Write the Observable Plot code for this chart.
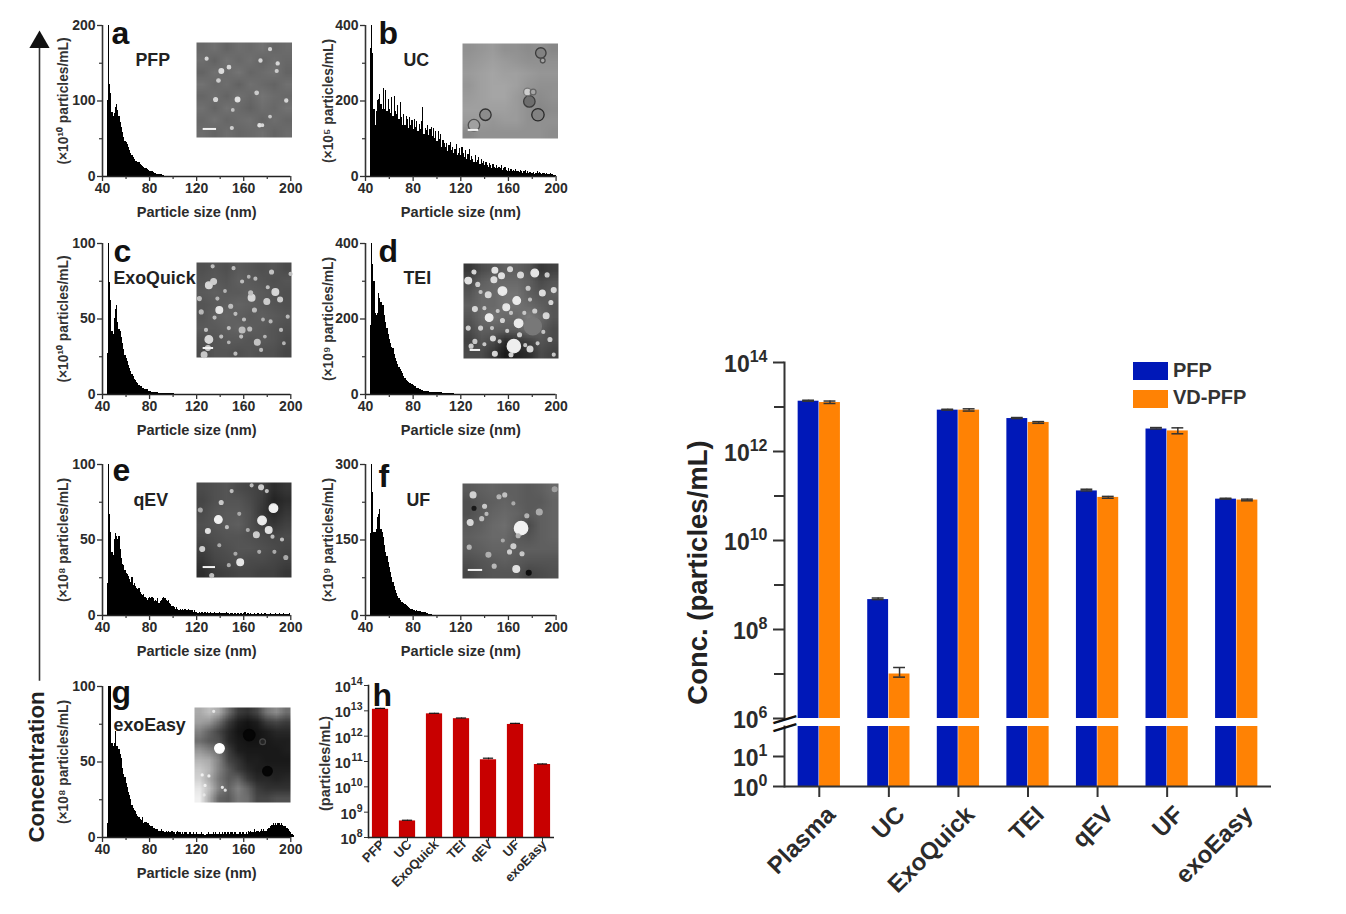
<!DOCTYPE html>
<html><head><meta charset="utf-8">
<script src="https://cdn.jsdelivr.net/npm/d3@7"></script>
<script src="https://cdn.jsdelivr.net/npm/@observablehq/plot@0.6"></script>
<style>
html,body{margin:0;padding:0;background:#fff}
#page{position:relative;width:1346px;height:914px;overflow:hidden;font-family:"Liberation Sans",Arial,sans-serif;color:#222}
#page svg{position:absolute;overflow:visible;background:transparent}
.lg{position:absolute;font-weight:bold;font-size:20px;color:#333;line-height:18px}
.sw{position:absolute;width:35px;height:18px}
</style></head><body><div id="page"></div>
<script>
// ---------- histogram values, 1 nm bins starting at 44 nm ----------
const firstSize = 44;
const countsA = [100,200,122,110,85,80,84,92,96,88,80,72,65,58,52,47,45,42,38,35,31,28,25,22,20,20,19,18,16,15,13,12,11,10,9,8,7,6,6,5,4,4,3,3,2,2,2,1,1];
const countsB = [340,400,325,178,135,172,200,205,218,190,178,232,178,228,172,205,
178,168,208,160,212,172,165,188,152,195,155,135,165,135,160,152,128,155,135,148,
125,150,130,145,118,138,125,145,182,112,128,122,135,108,125,130,105,128,100,120,
92,118,98,110,78,95,88,76,88,66,82,90,68,78,60,72,85,55,62,75,
55,78,60,50,68,46,58,72,42,52,45,38,55,38,42,50,32,45,35,40,
28,38,30,25,35,28,22,32,25,20,28,22,25,20,28,17,22,25,16,14,
20,14,18,13,16,12,18,12,14,11,16,12,9,14,16,9,12,8,10,7,
8,11,6,9,12,7,10,8,6,9,7,5,8,5,6,7,4,5,3,3];
const countsC = [27,100,74,62,42,40,50,56,59,48,43,42,38,34,30,26,24,22,19,17,15,13,12,10,9,8,7,6,5,5,4,4,3,3,3,2,2,2,1.5,1.5,1,1,1,1,.8,.8,.7,.7,.6,.6,.6,.5,.5,.5,.4,.4,.4];
const countsD = [183,400,345,300,215,210,215,268,255,245,235,235,210,190,175,160,145,135,125,122,105,95,88,80,72,65,60,55,48,42,38,35,33,30,28,26,24,22,20,17,15,14,13,11,10,9,8,8,7,7,6,6,5,5,5,5,4,4,4,4,4,3,3,3,3,3,3,3,3,2,2,1,1,1,1,1,1,1,1,1,1,1,1,1,1];
const countsE = [21,100,67,55,42,40,50,54,52,50,52,44,38,34,33,30,28,27,26,24,22,25,20,21,19,18,17,18,15,14,13,14,12,11,10,11,12,11,12,11,9,10,9,11,8,9,10,11,12,11,10,9,10,8,7,6,6,5,4,5,4,3,4,3,4,3,4,3,3,4,3,3,3,2,3,2,2,1,2,1,2,2,1,2,1,2,1,1,2,1,1,2,1,1,1,2,1,1,1,1,1,2,1,1,.5,1,1,.5,1,1,.5,1,.5,1,1,.5,1,2,.5,1,1,.5,1,.5,.5,1,.5,.5,1,.5,.5,1,.5,.5,1,.5,.5,.5,.5,1,.5,.5,.5,1,.5,.5,1,.5,.5,.5,1,.5,.5,.5,.5,1];
const countsF = [163,300,245,165,165,170,195,200,210,170,165,155,140,125,118,105,95,85,75,65,58,50,44,38,33,30,26,26,24,22,20,18,15,14,12,11,10,9,8,9,8,7,7,6,5,5,5,4,3,2,1,1];
const countsG = [9,100,100,100,62,60,62,70,60,60,58,55,52,46,42,40,36,33,30,28,25,21,19,18,17,15,14,13,12,11,13,9,10,10,9,9,8,7,7,6,6,5,5,5,4,4,5,4,4,3,4,3,4,3,3,4,3,3,2,3,4,3,3,2,3,2,3,3,2,2,3,3,2,3,2,2,3,2,2,2,3,2,2,1,2,2,3,2,2,2,3,2,3,2,2,3,2,2,3,2,3,2,3,3,2,3,3,2,3,3,2,2,3,3,2,3,3,2,3,2,4,3,4,3,3,5,3,4,4,3,4,5,4,5,4,4,5,6,6,7,8,9,8,9,8,9,9,8,9,8,7,7,6,6,5,4,3,2,1];

// ---------- concentration bars ----------
const methodsH = ["PFP","UC","ExoQuick","TEI","qEV","UF","exoEasy"];
const concH = [1.15e13,4.5e8,7.6e12,4.9e12,1.17e11,2.9e12,7.6e10];
const hiH = [1.25e13,4.8e8,8.0e12,5.2e12,1.35e11,3.2e12,8.0e10];
const methods = ["Plasma","UC","ExoQuick","TEI","qEV","UF","exoEasy"];
const concPFP = [1.35e13,4.7e8,8.5e12,5.5e12,1.3e11,3.2e12,8.5e10];
const hiPFP = [1.42e13,5.1e8,8.9e12,5.8e12,1.42e11,3.45e12,8.9e10];
const concVD = [1.26e13,1.0e7,8.5e12,4.5e12,9.3e10,2.9e12,8.1e10];
const hiVD = [1.36e13,1.4e7,9.1e12,4.7e12,9.8e10,3.4e12,8.5e10];
const loVD = [1.2e13,0.85e7,8.1e12,4.3e12,8.9e10,2.5e12,7.8e10];

// ---------- micrograph insets: coarse grey field, then [x, y, r, grey, edge] particles ----------
const fieldA = [[104,112,100,110,106,114,102,108],[110,98,114,104,112,100,110,104],[100,112,106,116,102,108,114,100],[114,104,110,98,112,106,100,112],[102,110,100,112,104,116,108,104],[112,100,114,106,98,110,104,114],[104,114,102,108,112,100,110,102],[108,100,110,102,106,112,100,108]];
const dotsA = [[10.6,17,1.5,215],[77,7,1.5,210],[67,19,1.6,215],[85,22,1.6,215],[84,30,1.5,205],[26,30,2.4,220],[34,26,1.8,215],[23,40,1.8,205],[20,60,2,215],[43,60,2.4,225],[63,53,1.8,205],[94,61,1.6,215],[38,71,1.3,195],[77,78,1.3,200],[66,87,1.7,225],[69,87,1.3,215],[37,90,1.5,205]];
const barA = [7,21,91];
const fieldB = [[145,150,155,145,145,140,145,135],[150,155,160,155,150,145,145,145],[155,160,165,160,160,155,150,150],[150,160,165,165,160,150,145,145],[155,160,165,165,155,145,140,145],[160,160,160,160,155,145,135,140],[155,155,150,155,155,145,145,145],[135,145,145,145,145,145,145,140]];
const dotsB = [[82,10,5.5,130,60],[84,18,2.5,165,80],[24,75,6,140,50],[12,86,6,160,80],[70,61,6,110,60],[79,75,6.5,130,40],[68,51,4,205,120],[74,51,3,165,100]];
const barB = [6,17,91];
const fieldC = [[80,85,80,90,85,80,85,75],[85,90,85,95,90,85,80,85],[90,95,90,90,95,90,85,80],[85,90,95,100,95,90,85,80],[85,95,100,95,90,95,90,85],[90,90,95,100,95,90,85,80],[80,85,90,90,85,90,85,75],[75,85,85,80,85,80,80,70]];
const dotsC = [[13,24,3.5,215],[18,20,3,205],[58,37,3.5,215],[83,31,3.5,215],[88,39,2.5,205],[74,41,3,205],[24,50,3.5,230],[36,46,2,190],[13,81,4,215],[64,84,3,195],[48,71,3,190],[57,32,2,190],[79,10,2,195],[17,4,1.5,190],[39,6,1.5,190],[48,20,1.5,190],[62,17,1.5,185],[5,52,2,185],[19,58,1.5,190],[41,54,1.5,190],[50,60,1.5,190],[61,50,2,190],[34,69,1.5,190],[78,62,1.5,185],[96,57,1.5,185],[89,71,1.5,185],[10,71,1.5,190],[26,78,1.5,190],[41,96,1.5,190],[68,92,1.5,185],[8,97,3,200],[12,90,2.5,200],[75,26,1.5,190],[99,12,1.5,190],[47,78,1.5,190],[3,38,2,190],[22,38,1.5,185],[70,60,1.3,180],[30,30,1.3,180],[55,15,1.3,180],[92,85,1.3,180],[34,84,1.3,180],[56,70,2,190],[72,78,1.3,180]];
const barC = [7,18,90];
const fieldD = [[55,75,85,95,95,85,55,65],[75,95,105,105,105,95,75,85],[85,105,105,115,115,95,85,95],[95,105,105,115,115,105,95,85],[85,105,115,105,105,125,105,85],[75,95,95,95,95,115,95,75],[65,85,75,45,55,65,85,75],[75,75,55,25,35,45,75,65]];
const dotsD = [[73,66,9,120],[53,87,7,238],[41,29,4.5,235],[56,39,4,235],[45,46,3.5,230],[27,57,4,235],[58,63,4.5,235],[75,10,4,230],[5,18,3.5,225],[33,7,3,225],[40,13,3,225],[60,12,3,215],[49,6,2.5,215],[11,9,2,215],[26,33,3,215],[32,17,3,220],[15,22,2,205],[83,31,3,220],[92,41,2,215],[95,28,2.5,215],[88,12,2,205],[68,26,2,200],[12,48,2.5,215],[87,55,3,215],[75,50,2,205],[41,60,2,210],[18,68,2,205],[31,79,2.5,215],[59,75,2,205],[70,90,3,215],[33,95,2.5,215],[50,96,2,210],[8,87,2,205],[12,82,2,200],[91,80,2,205],[5,68,2,205],[22,47,1.5,200],[36,50,1.5,200],[64,52,1.5,200],[46,71,1.5,200],[78,84,1.5,200],[22,85,1.5,200],[95,96,1.5,200],[50,52,1.5,195],[18,30,1.5,195],[70,38,1.5,195],[30,68,1.5,195],[84,72,1.5,195],[65,86,1.5,195],[38,82,1.5,195]];
const barD = [7,18,91];
const fieldE = [[75,80,85,75,70,65,45,55],[70,80,85,85,75,60,35,45],[75,85,90,90,80,55,40,55],[80,85,90,95,80,65,55,65],[75,80,85,85,80,75,70,75],[65,75,80,85,85,80,75,70],[55,70,75,80,75,75,70,65],[45,60,65,70,70,65,65,55]];
const dotsE = [[23,39,4,240],[69,40,4.5,235],[81,27,4.5,240],[76,50,3.5,225],[46,84,3.5,230],[63,55,3,205],[12,51,2.5,225],[68,5,2.5,205],[26,21,2,200],[6,70,2.5,205],[4,29,2,170],[37,9,1.5,190],[58,3,1.5,190],[74,9,1.5,190],[80,57,1.5,190],[90,60,1.5,190],[94,79,2,170],[45,33,1.5,170],[54,50,1.5,170],[32,47,1.5,190],[24,66,1.5,170],[41,75,1.5,170],[16,98,2,190],[34,87,1.5,170],[66,73,1.5,170],[82,73,1.5,170]];
const barE = [7,20,89];
const fieldF = [[90,95,100,95,95,90,95,105],[80,90,95,100,95,90,90,100],[80,90,100,105,100,90,95,100],[90,95,105,110,95,75,95,100],[95,100,105,105,90,85,95,100],[90,95,100,100,95,95,95,95],[80,85,90,95,90,85,85,85],[70,80,85,85,85,70,75,80]];
const dotsF = [[61,47,7,242],[56,90,3.5,225],[11,12,3,210],[8,41,3,215],[23,24,2,200],[38,14,2,180],[44,12,2,195],[53,66,2.5,205],[49,72,2,205],[62,74,2,200],[80,30,3,170],[67,34,2,180],[20,37,2,190],[25,32,1.5,185],[7,67,2,180],[27,75,2.5,175],[33,87,2,185],[42,60,1.5,170],[58,55,2,180],[53,21,1.5,170],[96,6,2.5,160],[69,94,2.5,15],[12,26,2,25]];
const barF = [6,21,91];
const fieldG = [[170,190,170,110,60,50,70,120,140,110],[160,150,110,60,30,20,30,60,70,60],[130,100,70,40,20,15,20,30,40,40],[110,90,80,40,25,20,20,25,30,30],[150,130,110,60,30,25,25,25,25,30],[180,170,130,70,50,30,30,25,25,25],[200,180,130,90,60,40,30,30,30,30],[210,170,120,90,100,60,40,40,35,40],[230,190,130,100,130,100,60,50,50,50],[240,170,100,90,120,110,70,70,80,80]];
const dotsG = [[26,43,5,255],[57,29,6,5],[76,67,5,5],[71,36,3,35,70],[8,71,1,240],[15,72,1,240],[11,82,1,240],[29,84,1,230],[20,4,1,230],[10,92,1,230],[32,87,1,225]];
const barG = null;

// ---------- panel labels and ticks ----------
const sizeTicks = [40,80,120,160,200];
const sizeMinor = [60,100,140,180];
const sizeLabel = "Particle size (nm)";

const page = document.getElementById("page");
function place(svg, left, top){ svg.style.left = left + "px"; svg.style.top = top + "px"; page.appendChild(svg); return svg; }
const FONT = '"Liberation Sans", Arial, sans-serif';
const INK = "#2b2b2b";
const expo = d => Math.round(Math.log10(d));

// "10" and its raised exponent, set as two real texts so that the exponent keeps its size
function powerLabels(values, o){
  return [1, 2].flatMap(n => {
    const vals = values.filter(d => String(expo(d)).length === n);
    return [
      Plot.text(vals, {y: d => d, text: () => "10", frameAnchor: "left", textAnchor: "end", dx: o.right - n * o.expW, dy: o.dy10, fontSize: o.fs, fontWeight: "bold", fill: INK}),
      Plot.text(vals, {y: d => d, text: d => String(expo(d)), frameAnchor: "left", textAnchor: "end", dx: o.right, dy: o.dyExp, fontSize: o.fe, fontWeight: "bold", fill: INK})
    ];
  });
}

function hist(p){
  const mL = 72, mT = 14, mB = 62, mR = 22, H = 151;
  const svg = Plot.plot({
    width: p.x1 - p.x0 + mL + mR, height: H + mT + mB,
    marginLeft: mL, marginTop: mT, marginBottom: mB, marginRight: mR,
    style: {fontFamily: FONT, background: "transparent", color: INK},
    x: {domain: [40, 200], axis: null}, y: {domain: [0, p.max], axis: null},
    marks: [
      Plot.rectY(p.counts, {x1: (d,i) => firstSize + i, x2: (d,i) => firstSize + i + 1, y1: 0, y2: d => Math.min(d, p.max), fill: "#000", shapeRendering: "crispEdges"}),
      Plot.ruleX([40], {stroke: "#333", strokeWidth: 1.6}),
      Plot.ruleY([0], {stroke: "#222", strokeWidth: 1.6}),
      Plot.axisX({ticks: sizeTicks, tickSize: 5, tickPadding: 2, fontSize: 14, fontWeight: "bold", label: null, stroke: "#333", strokeWidth: 1.3, fill: INK}),
      Plot.axisX({ticks: sizeMinor, tickSize: 3, fill: "none", stroke: "#333", strokeWidth: 1.2, label: null}),
      Plot.axisY({ticks: p.ticks, tickSize: 5, tickPadding: 2, fontSize: 14, fontWeight: "bold", label: null, stroke: "#333", strokeWidth: 1.3, fill: INK}),
      Plot.axisY({ticks: p.minor, tickSize: 3, fill: "none", stroke: "#333", strokeWidth: 1.2, label: null}),
      Plot.text([sizeLabel], {frameAnchor: "bottom", dy: 41, fontSize: 14.6, fontWeight: "bold", fill: INK}),
      Plot.text([p.ylabel], {frameAnchor: "left", textAnchor: "middle", dx: p.yDx, rotate: -90, fontSize: 13.8, fontWeight: "bold", fill: "#333"}),
      Plot.text([p.letter], {frameAnchor: "top-left", dx: p.letterAt[0], dy: p.letterAt[1], lineAnchor: "bottom", textAnchor: "start", fontSize: 32, fontWeight: "bold", fill: "#111"}),
      Plot.text([p.name], {frameAnchor: "top-left", dx: p.nameAt[0], dy: p.nameAt[1], lineAnchor: "bottom", textAnchor: "start", fontSize: 17.8, fontWeight: "bold", fill: "#222"})
    ]
  });
  place(svg, p.x0 - mL, p.yTop - mT);
}

function inset(c){
  const w = c.box[2] - c.box[0], h = c.box[3] - c.box[1];
  const n = c.field.length;
  const svg = Plot.plot({
    width: w, height: h, margin: 0, style: {background: "transparent"},
    x: {domain: [0, 100], axis: null}, y: {domain: [0, 100], reverse: true, axis: null},
    color: {type: "linear", domain: [0, 255], range: ["#000", "#fff"]},
    r: {type: "identity"},
    marks: [
      Plot.raster(c.field.flat(), {width: n, height: n, x1: 0, x2: 100, y1: 0, y2: 100, fill: d => d}),
      Plot.dot(c.dots, {x: d => d[0], y: d => d[1], r: d => d[2] * w / 100, fill: d => d[3], stroke: d => d[4] ?? d[3], strokeWidth: 1.3}),
      c.bar ? Plot.ruleY([c.bar[2]], {x1: c.bar[0], x2: c.bar[1], stroke: "#f2f2f2", strokeWidth: 2}) : null
    ]
  });
  svg.style.filter = "blur(0.6px)";
  place(svg, c.box[0], c.box[1]);
}

const panels = [
  {letter:"a",name:"PFP",counts:countsA,max:200,ticks:[0,100,200],minor:[50,150],x0:101.7,x1:290,yTop:25,ylabel:"(×10¹⁰ particles/mL)",yDx:-39,letterAt:[9,19],nameAt:[33,41]},
  {letter:"b",name:"UC",counts:countsB,max:400,ticks:[0,200,400],minor:[100,300],x0:365,x1:555.6,yTop:25,ylabel:"(×10⁵ particles/mL)",yDx:-37,letterAt:[13,18.5],nameAt:[38,40.5]},
  {letter:"c",name:"ExoQuick",counts:countsC,max:100,ticks:[0,50,100],minor:[25,75],x0:101.7,x1:290,yTop:243,ylabel:"(×10¹⁰ particles/mL)",yDx:-39,letterAt:[11,19],nameAt:[11,41]},
  {letter:"d",name:"TEI",counts:countsD,max:400,ticks:[0,200,400],minor:[100,300],x0:365,x1:555.6,yTop:243,ylabel:"(×10⁹ particles/mL)",yDx:-37,letterAt:[13,19],nameAt:[38,41]},
  {letter:"e",name:"qEV",counts:countsE,max:100,ticks:[0,50,100],minor:[25,75],x0:101.7,x1:290,yTop:464,ylabel:"(×10⁸ particles/mL)",yDx:-39,letterAt:[10,17],nameAt:[31,42]},
  {letter:"f",name:"UF",counts:countsF,max:300,ticks:[0,150,300],minor:[75,225],x0:365,x1:555.6,yTop:464,ylabel:"(×10⁹ particles/mL)",yDx:-37,letterAt:[13,23],nameAt:[41,41.5]},
  {letter:"g",name:"exoEasy",counts:countsG,max:100,ticks:[0,50,100],minor:[25,75],x0:101.7,x1:290,yTop:686,ylabel:"(×10⁸ particles/mL)",yDx:-39,letterAt:[9,17],nameAt:[11,45]}
];
panels.forEach(hist);

[
  {box:[195.5,42,291,137],field:fieldA,dots:dotsA,bar:barA},
  {box:[462,43,557.5,138],field:fieldB,dots:dotsB,bar:barB},
  {box:[196,262,291,357],field:fieldC,dots:dotsC,bar:barC},
  {box:[463,263,558,358],field:fieldD,dots:dotsD,bar:barD},
  {box:[196,482,291,577],field:fieldE,dots:dotsE,bar:barE},
  {box:[462,483,558,578],field:fieldF,dots:dotsF,bar:barF},
  {box:[194,707,290,802],field:fieldG,dots:dotsG,bar:barG}
].forEach(inset);

// ---------- panel h ----------
{
  const rows = methodsH.map((m,i) => ({m, v: concH[i], hi: hiH[i]}));
  const mL = 62, mT = 12, mB = 60, mR = 14;
  const decades = [1e8,1e9,1e10,1e11,1e12,1e13,1e14];
  const svg = Plot.plot({
    width: 186 + mL + mR, height: 152 + mT + mB,
    marginLeft: mL, marginTop: mT, marginBottom: mB, marginRight: mR,
    style: {fontFamily: FONT, background: "transparent", color: INK},
    x: {domain: methodsH, paddingInner: 0.4, paddingOuter: 0.145, round: false, axis: null},
    y: {type: "log", domain: [1e8, 1e14], axis: null},
    marks: [
      Plot.barY(rows, {x: "m", y1: 1e8, y2: "v", fill: "#c80000"}),
      Plot.ruleX(rows, {x: "m", y1: "v", y2: "hi", stroke: "#111"}),
      Plot.tickY(rows, {x: "m", y: "hi", stroke: "#111", strokeWidth: 1.2, insetLeft: 3, insetRight: 3}),
      Plot.axisX({tickSize: 4, fill: "none", stroke: "#333", label: null}),
      Plot.axisX({tickSize: 0, tickRotate: -45, tickPadding: 5, dx: 2, fontSize: 13, fontWeight: "bold", label: null, fill: INK}),
      Plot.axisY({ticks: decades, tickSize: 4, fill: "none", label: null, stroke: "#333"}),
      ...powerLabels(decades, {right: -6, expW: 5.8, fs: 14.5, fe: 10.5, dy10: 2, dyExp: -4}),
      Plot.frame({anchor: "left", stroke: "#222", strokeWidth: 1.6}),
      Plot.ruleY([1e8], {stroke: "#222", strokeWidth: 1.6}),
      Plot.text(["(particles/mL)"], {frameAnchor: "left", textAnchor: "middle", dx: -43, dy: 2, rotate: -90, fontSize: 14.5, fontWeight: "bold", fill: "#333"}),
      Plot.text(["h"], {frameAnchor: "top-left", dx: 4, dy: 20, lineAnchor: "bottom", textAnchor: "start", fontSize: 32, fontWeight: "bold", fill: "#111"})
    ]
  });
  place(svg, 368 - mL, 685 - mT);
}

// ---------- large broken-axis chart ----------
{
  const rows = methods.flatMap((m,i) => [
    {m, s:"PFP", v: concPFP[i], hi: hiPFP[i], lo: concPFP[i], off: -10.7},
    {m, s:"VD-PFP", v: concVD[i], hi: hiVD[i], lo: loVD[i], off: 10.7}
  ]);
  const left = 660, mL = 124, mR = 15;
  const xOpts = {domain: methods, paddingInner: 0.7, paddingOuter: 0.35, round: false, axis: null};
  const colors = {"PFP": "#0018b8", "VD-PFP": "#ff8204"};
  const barsFor = (y1, top) => ["PFP","VD-PFP"].map(s => {
    const r = rows.filter(d => d.s === s);
    return Plot.barY(r, {x: "m", y1, y2: top || "v", fill: colors[s], dx: r[0].off});
  });
  const errFor = () => ["PFP","VD-PFP"].flatMap(s => {
    const r = rows.filter(d => d.s === s);
    return [
      Plot.ruleX(r, {x: "m", y1: "lo", y2: "hi", stroke: "#333", strokeWidth: 1.5, dx: r[0].off}),
      Plot.tickY(r, {x: "m", y: "hi", stroke: "#333", strokeWidth: 1.5, dx: r[0].off, insetLeft: 4.5, insetRight: 4.5}),
      Plot.tickY(r, {x: "m", y: "lo", stroke: "#333", strokeWidth: 1.5, dx: r[0].off, insetLeft: 4.5, insetRight: 4.5})
    ];
  });
  const bigLabels = {right: -17, expW: 8.9, fs: 23, fe: 16, dy10: 2, dyExp: -6};
  const upper = Plot.plot({
    width: 487 + mL + mR, height: 356 + 20,
    marginLeft: mL, marginRight: mR, marginTop: 10, marginBottom: 10,
    style: {fontFamily: FONT, background: "transparent", color: INK},
    x: xOpts,
    y: {type: "log", domain: [1e6, 1e14], axis: null},
    marks: [
      ...barsFor(1e6),
      ...errFor(),
      Plot.axisY({ticks: [1e6,1e8,1e10,1e12,1e14], tickSize: 11, fill: "none", label: null, stroke: "#333", strokeWidth: 2}),
      Plot.axisY({ticks: [1e7,1e9,1e11,1e13], tickSize: 10, fill: "none", stroke: "#333", strokeWidth: 2, label: null}),
      ...powerLabels([1e6,1e8,1e10,1e12,1e14], bigLabels),
      Plot.frame({anchor: "left", stroke: "#333", strokeWidth: 2}),
      Plot.text(["Conc. (particles/mL)"], {frameAnchor: "left", textAnchor: "middle", dx: -86, dy: 32, rotate: -90, fontSize: 27.5, fontWeight: "bold", fill: "#222"}),
      Plot.text(["—"], {frameAnchor: "bottom-left", textAnchor: "middle", lineAnchor: "middle", rotate: -17, fontSize: 24, fontWeight: "bold", fill: "#111"})
    ]
  });
  place(upper, left, 352);

  const lower = Plot.plot({
    width: 487 + mL + mR, height: 60 + 10 + 130,
    marginLeft: mL, marginRight: mR, marginTop: 10, marginBottom: 130,
    style: {fontFamily: FONT, background: "transparent", color: INK},
    x: xOpts,
    y: {type: "log", domain: [1, 100], axis: null},
    marks: [
      ...barsFor(1, 100),
      Plot.axisX({tickSize: 11, fill: "none", stroke: "#333", strokeWidth: 2, label: null}),
      Plot.axisX({tickSize: 0, tickRotate: -45, tickPadding: 24, dx: 12, fontSize: 24, fontWeight: "bold", label: null, fill: INK}),
      Plot.axisY({ticks: [1,10], tickSize: 11, fill: "none", label: null, stroke: "#333", strokeWidth: 2}),
      ...powerLabels([1,10], bigLabels),
      Plot.frame({anchor: "left", stroke: "#333", strokeWidth: 2}),
      Plot.ruleY([1], {stroke: "#333", strokeWidth: 2}),
      Plot.text(["—"], {frameAnchor: "top-left", textAnchor: "middle", lineAnchor: "middle", rotate: -17, fontSize: 24, fontWeight: "bold", fill: "#111"})
    ]
  });
  place(lower, left, 716);

  // legend
  [["PFP","#0018b8",362,361],["VD-PFP","#ff8204",390,388]].forEach(([t,c,y,ty]) => {
    const s = document.createElement("div"); s.className = "sw"; s.style.cssText = `left:1133px;top:${y}px;background:${c}`; page.appendChild(s);
    const l = document.createElement("div"); l.className = "lg"; l.textContent = t; l.style.cssText = `left:1173px;top:${ty}px`; page.appendChild(l);
  });
}

// ---------- left arrow + "Concentration" ----------
{
  const svg = Plot.plot({
    width: 60, height: 830, margin: 0,
    style: {fontFamily: FONT, background: "transparent"},
    x: {domain: [0, 1], axis: null}, y: {domain: [0, 1], axis: null},
    marks: [
      Plot.ruleX([0.5], {y1: 0.21, y2: 0.98, stroke: "#333", strokeWidth: 1.6}),
      Plot.dot([{x: 0.5, y: 0.98}], {x: "x", y: "y", symbol: "triangle", r: 7.5, fill: "#111"}),
      Plot.text(["Concentration"], {frameAnchor: "bottom", dy: -13, dx: 4, textAnchor: "start", rotate: -90, fontSize: 22.3, fontWeight: "bold", fill: "#222"})
    ]
  });
  place(svg, 9, 25);
}
</script></body></html>
